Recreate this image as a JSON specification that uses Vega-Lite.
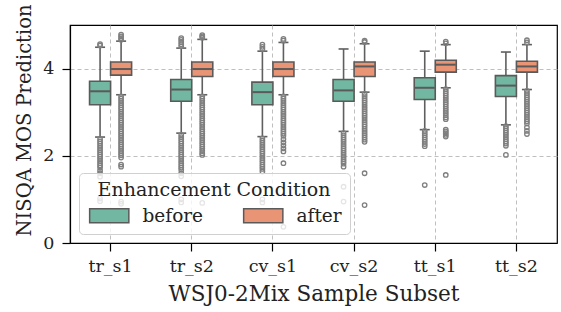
{
 "$schema": "https://vega.github.io/schema/vega-lite/v6.json",
 "width": 487, "height": 218,
 "autosize": {"type": "none"},
 "padding": {"left": 70, "top": 25, "right": 4, "bottom": 69},
 "background": "white",
 "config": {
  "font": "DejaVu Serif",
  "view": {"stroke": "black", "strokeWidth": 1.2},
  "axis": {"labelFont": "DejaVu Serif", "titleFont": "DejaVu Serif", "labelFontSize": 17.5, "titleFontSize": 21.5, "labelColor": "#222", "titleColor": "#222", "titleFontWeight": "normal", "domainColor": "black", "domainWidth": 1.2, "tickColor": "black", "tickWidth": 1.2, "tickSize": 8, "gridColor": "#b8b8b8", "gridDash": [4, 3], "gridWidth": 0.9},
  "legend": {"orient": "bottom-left", "offset": 9, "direction": "horizontal", "columns": 2, "titleFontSize": 19, "labelFontSize": 18.5, "titleFont": "DejaVu Serif", "labelFont": "DejaVu Serif", "titleFontWeight": "normal", "titleColor": "#222", "labelColor": "#222", "titleLimit": 400, "fillColor": "rgba(255,255,255,0.8)", "strokeColor": "#d0d0d0", "cornerRadius": 4, "padding": 8, "symbolType": "M-2.8,-1L2.8,-1L2.8,1L-2.8,1Z", "symbolSize": 196, "symbolOffset": 13, "symbolStrokeColor": "#5a5a5a", "symbolStrokeWidth": 1.5, "symbolOpacity": 1, "labelOffset": 24, "columnPadding": 36, "titleAnchor": "middle", "titlePadding": 6}
 },
 "datasets": {
  "stats": [
   {"s": "tr_s1", "c": "before", "lo": 2.43, "q1": 3.17, "med": 3.48, "q3": 3.71, "hi": 4.49},
   {"s": "tr_s1", "c": "after", "lo": 3.40, "q1": 3.85, "med": 3.99, "q3": 4.15, "hi": 4.63},
   {"s": "tr_s2", "c": "before", "lo": 2.52, "q1": 3.25, "med": 3.52, "q3": 3.75, "hi": 4.47},
   {"s": "tr_s2", "c": "after", "lo": 3.40, "q1": 3.82, "med": 3.99, "q3": 4.15, "hi": 4.67},
   {"s": "cv_s1", "c": "before", "lo": 2.44, "q1": 3.17, "med": 3.46, "q3": 3.69, "hi": 4.40},
   {"s": "cv_s1", "c": "after", "lo": 3.40, "q1": 3.82, "med": 3.99, "q3": 4.15, "hi": 4.60},
   {"s": "cv_s2", "c": "before", "lo": 2.56, "q1": 3.25, "med": 3.50, "q3": 3.75, "hi": 4.45},
   {"s": "cv_s2", "c": "after", "lo": 3.46, "q1": 3.82, "med": 4.05, "q3": 4.15, "hi": 4.57},
   {"s": "tt_s1", "c": "before", "lo": 2.60, "q1": 3.29, "med": 3.56, "q3": 3.79, "hi": 4.40},
   {"s": "tt_s1", "c": "after", "lo": 3.56, "q1": 3.92, "med": 4.09, "q3": 4.19, "hi": 4.55},
   {"s": "tt_s2", "c": "before", "lo": 2.71, "q1": 3.36, "med": 3.61, "q3": 3.84, "hi": 4.38},
   {"s": "tt_s2", "c": "after", "lo": 3.52, "q1": 3.92, "med": 4.05, "q3": 4.17, "hi": 4.55}
  ],
  "out": [
   {"s":"tr_s1","c":"before","v":4.53},{"s":"tr_s1","c":"before","v":4.56},
   {"s":"tr_s1","c":"before","v":2.38},{"s":"tr_s1","c":"before","v":2.33},{"s":"tr_s1","c":"before","v":2.28},{"s":"tr_s1","c":"before","v":2.23},{"s":"tr_s1","c":"before","v":2.18},{"s":"tr_s1","c":"before","v":2.13},{"s":"tr_s1","c":"before","v":2.08},{"s":"tr_s1","c":"before","v":2.03},{"s":"tr_s1","c":"before","v":1.98},{"s":"tr_s1","c":"before","v":1.93},{"s":"tr_s1","c":"before","v":1.88},{"s":"tr_s1","c":"before","v":1.83},{"s":"tr_s1","c":"before","v":1.78},{"s":"tr_s1","c":"before","v":1.73},{"s":"tr_s1","c":"before","v":1.66},{"s":"tr_s1","c":"before","v":1.60},{"s":"tr_s1","c":"before","v":1.52},{"s":"tr_s1","c":"before","v":1.02},{"s":"tr_s1","c":"before","v":0.96},
   {"s":"tr_s1","c":"after","v":4.66},{"s":"tr_s1","c":"after","v":4.70},{"s":"tr_s1","c":"after","v":4.74},{"s":"tr_s1","c":"after","v":4.78},
   {"s":"tr_s1","c":"after","v":3.36},{"s":"tr_s1","c":"after","v":3.31},{"s":"tr_s1","c":"after","v":3.26},{"s":"tr_s1","c":"after","v":3.21},{"s":"tr_s1","c":"after","v":3.16},{"s":"tr_s1","c":"after","v":3.11},{"s":"tr_s1","c":"after","v":3.06},{"s":"tr_s1","c":"after","v":3.01},{"s":"tr_s1","c":"after","v":2.96},{"s":"tr_s1","c":"after","v":2.91},{"s":"tr_s1","c":"after","v":2.86},{"s":"tr_s1","c":"after","v":2.81},{"s":"tr_s1","c":"after","v":2.76},{"s":"tr_s1","c":"after","v":2.71},{"s":"tr_s1","c":"after","v":2.66},{"s":"tr_s1","c":"after","v":2.61},{"s":"tr_s1","c":"after","v":2.56},{"s":"tr_s1","c":"after","v":2.51},{"s":"tr_s1","c":"after","v":2.46},{"s":"tr_s1","c":"after","v":2.41},{"s":"tr_s1","c":"after","v":2.36},{"s":"tr_s1","c":"after","v":2.31},{"s":"tr_s1","c":"after","v":2.26},{"s":"tr_s1","c":"after","v":2.21},{"s":"tr_s1","c":"after","v":2.16},{"s":"tr_s1","c":"after","v":2.11},{"s":"tr_s1","c":"after","v":2.06},{"s":"tr_s1","c":"after","v":2.01},{"s":"tr_s1","c":"after","v":1.96},{"s":"tr_s1","c":"after","v":1.80},{"s":"tr_s1","c":"after","v":1.75},{"s":"tr_s1","c":"after","v":0.95},{"s":"tr_s1","c":"after","v":0.90},
   {"s":"tr_s2","c":"before","v":4.51},{"s":"tr_s2","c":"before","v":4.56},{"s":"tr_s2","c":"before","v":4.61},{"s":"tr_s2","c":"before","v":4.66},{"s":"tr_s2","c":"before","v":4.70},
   {"s":"tr_s2","c":"before","v":2.48},{"s":"tr_s2","c":"before","v":2.43},{"s":"tr_s2","c":"before","v":2.38},{"s":"tr_s2","c":"before","v":2.33},{"s":"tr_s2","c":"before","v":2.28},{"s":"tr_s2","c":"before","v":2.23},{"s":"tr_s2","c":"before","v":2.18},{"s":"tr_s2","c":"before","v":2.13},{"s":"tr_s2","c":"before","v":2.08},{"s":"tr_s2","c":"before","v":2.03},{"s":"tr_s2","c":"before","v":1.98},{"s":"tr_s2","c":"before","v":1.93},{"s":"tr_s2","c":"before","v":1.88},{"s":"tr_s2","c":"before","v":1.83},{"s":"tr_s2","c":"before","v":1.78},{"s":"tr_s2","c":"before","v":1.73},{"s":"tr_s2","c":"before","v":1.68},{"s":"tr_s2","c":"before","v":1.60},{"s":"tr_s2","c":"before","v":1.53},{"s":"tr_s2","c":"before","v":1.00},{"s":"tr_s2","c":"before","v":0.93},
   {"s":"tr_s2","c":"after","v":4.71},{"s":"tr_s2","c":"after","v":4.74},{"s":"tr_s2","c":"after","v":4.77},
   {"s":"tr_s2","c":"after","v":3.36},{"s":"tr_s2","c":"after","v":3.31},{"s":"tr_s2","c":"after","v":3.26},{"s":"tr_s2","c":"after","v":3.21},{"s":"tr_s2","c":"after","v":3.16},{"s":"tr_s2","c":"after","v":3.11},{"s":"tr_s2","c":"after","v":3.06},{"s":"tr_s2","c":"after","v":3.01},{"s":"tr_s2","c":"after","v":2.96},{"s":"tr_s2","c":"after","v":2.91},{"s":"tr_s2","c":"after","v":2.86},{"s":"tr_s2","c":"after","v":2.81},{"s":"tr_s2","c":"after","v":2.76},{"s":"tr_s2","c":"after","v":2.71},{"s":"tr_s2","c":"after","v":2.66},{"s":"tr_s2","c":"after","v":2.61},{"s":"tr_s2","c":"after","v":2.56},{"s":"tr_s2","c":"after","v":2.51},{"s":"tr_s2","c":"after","v":2.46},{"s":"tr_s2","c":"after","v":2.41},{"s":"tr_s2","c":"after","v":2.36},{"s":"tr_s2","c":"after","v":2.31},{"s":"tr_s2","c":"after","v":2.26},{"s":"tr_s2","c":"after","v":2.21},{"s":"tr_s2","c":"after","v":2.16},{"s":"tr_s2","c":"after","v":2.11},{"s":"tr_s2","c":"after","v":2.06},{"s":"tr_s2","c":"after","v":2.02},{"s":"tr_s2","c":"after","v":0.92},
   {"s":"cv_s1","c":"before","v":4.45},{"s":"cv_s1","c":"before","v":4.50},{"s":"cv_s1","c":"before","v":4.55},
   {"s":"cv_s1","c":"before","v":2.40},{"s":"cv_s1","c":"before","v":2.35},{"s":"cv_s1","c":"before","v":2.30},{"s":"cv_s1","c":"before","v":2.25},{"s":"cv_s1","c":"before","v":2.20},{"s":"cv_s1","c":"before","v":2.15},{"s":"cv_s1","c":"before","v":2.10},{"s":"cv_s1","c":"before","v":2.05},{"s":"cv_s1","c":"before","v":2.00},{"s":"cv_s1","c":"before","v":1.95},{"s":"cv_s1","c":"before","v":1.90},{"s":"cv_s1","c":"before","v":1.85},{"s":"cv_s1","c":"before","v":1.80},{"s":"cv_s1","c":"before","v":1.75},{"s":"cv_s1","c":"before","v":1.70},{"s":"cv_s1","c":"before","v":1.64},{"s":"cv_s1","c":"before","v":1.00},{"s":"cv_s1","c":"before","v":0.93},
   {"s":"cv_s1","c":"after","v":4.64},{"s":"cv_s1","c":"after","v":4.68},
   {"s":"cv_s1","c":"after","v":3.36},{"s":"cv_s1","c":"after","v":3.31},{"s":"cv_s1","c":"after","v":3.26},{"s":"cv_s1","c":"after","v":3.21},{"s":"cv_s1","c":"after","v":3.16},{"s":"cv_s1","c":"after","v":3.11},{"s":"cv_s1","c":"after","v":3.06},{"s":"cv_s1","c":"after","v":3.01},{"s":"cv_s1","c":"after","v":2.96},{"s":"cv_s1","c":"after","v":2.91},{"s":"cv_s1","c":"after","v":2.86},{"s":"cv_s1","c":"after","v":2.81},{"s":"cv_s1","c":"after","v":2.76},{"s":"cv_s1","c":"after","v":2.71},{"s":"cv_s1","c":"after","v":2.66},{"s":"cv_s1","c":"after","v":2.61},{"s":"cv_s1","c":"after","v":2.56},{"s":"cv_s1","c":"after","v":2.51},{"s":"cv_s1","c":"after","v":2.46},{"s":"cv_s1","c":"after","v":2.38},{"s":"cv_s1","c":"after","v":2.31},{"s":"cv_s1","c":"after","v":2.24},{"s":"cv_s1","c":"after","v":2.17},{"s":"cv_s1","c":"after","v":2.10},{"s":"cv_s1","c":"after","v":1.83},{"s":"cv_s1","c":"after","v":0.37},
   {"s":"cv_s2","c":"before","v":2.52},{"s":"cv_s2","c":"before","v":2.47},{"s":"cv_s2","c":"before","v":2.42},{"s":"cv_s2","c":"before","v":2.37},{"s":"cv_s2","c":"before","v":2.32},{"s":"cv_s2","c":"before","v":2.27},{"s":"cv_s2","c":"before","v":2.22},{"s":"cv_s2","c":"before","v":2.17},{"s":"cv_s2","c":"before","v":2.12},{"s":"cv_s2","c":"before","v":2.07},{"s":"cv_s2","c":"before","v":2.02},{"s":"cv_s2","c":"before","v":1.97},{"s":"cv_s2","c":"before","v":1.92},{"s":"cv_s2","c":"before","v":1.87},{"s":"cv_s2","c":"before","v":1.82},{"s":"cv_s2","c":"before","v":1.75},{"s":"cv_s2","c":"before","v":1.29},{"s":"cv_s2","c":"before","v":0.95},
   {"s":"cv_s2","c":"after","v":4.61},{"s":"cv_s2","c":"after","v":4.64},
   {"s":"cv_s2","c":"after","v":3.42},{"s":"cv_s2","c":"after","v":3.37},{"s":"cv_s2","c":"after","v":3.32},{"s":"cv_s2","c":"after","v":3.27},{"s":"cv_s2","c":"after","v":3.22},{"s":"cv_s2","c":"after","v":3.17},{"s":"cv_s2","c":"after","v":3.12},{"s":"cv_s2","c":"after","v":3.07},{"s":"cv_s2","c":"after","v":3.02},{"s":"cv_s2","c":"after","v":2.97},{"s":"cv_s2","c":"after","v":2.92},{"s":"cv_s2","c":"after","v":2.87},{"s":"cv_s2","c":"after","v":2.82},{"s":"cv_s2","c":"after","v":2.77},{"s":"cv_s2","c":"after","v":2.72},{"s":"cv_s2","c":"after","v":2.67},{"s":"cv_s2","c":"after","v":2.62},{"s":"cv_s2","c":"after","v":2.57},{"s":"cv_s2","c":"after","v":2.52},{"s":"cv_s2","c":"after","v":2.47},{"s":"cv_s2","c":"after","v":2.42},{"s":"cv_s2","c":"after","v":2.37},{"s":"cv_s2","c":"after","v":2.32},{"s":"cv_s2","c":"after","v":1.60},{"s":"cv_s2","c":"after","v":0.87},
   {"s":"tt_s1","c":"before","v":2.57},{"s":"tt_s1","c":"before","v":2.52},{"s":"tt_s1","c":"before","v":2.47},{"s":"tt_s1","c":"before","v":2.42},{"s":"tt_s1","c":"before","v":2.37},{"s":"tt_s1","c":"before","v":2.32},{"s":"tt_s1","c":"before","v":2.27},{"s":"tt_s1","c":"before","v":2.22},{"s":"tt_s1","c":"before","v":1.33},
   {"s":"tt_s1","c":"after","v":4.58},{"s":"tt_s1","c":"after","v":4.62},
   {"s":"tt_s1","c":"after","v":3.53},{"s":"tt_s1","c":"after","v":3.48},{"s":"tt_s1","c":"after","v":3.43},{"s":"tt_s1","c":"after","v":3.38},{"s":"tt_s1","c":"after","v":3.33},{"s":"tt_s1","c":"after","v":3.28},{"s":"tt_s1","c":"after","v":3.23},{"s":"tt_s1","c":"after","v":3.18},{"s":"tt_s1","c":"after","v":3.13},{"s":"tt_s1","c":"after","v":3.08},{"s":"tt_s1","c":"after","v":3.03},{"s":"tt_s1","c":"after","v":2.98},{"s":"tt_s1","c":"after","v":2.93},{"s":"tt_s1","c":"after","v":2.88},{"s":"tt_s1","c":"after","v":2.84},{"s":"tt_s1","c":"after","v":2.60},{"s":"tt_s1","c":"after","v":2.56},{"s":"tt_s1","c":"after","v":2.52},{"s":"tt_s1","c":"after","v":2.48},{"s":"tt_s1","c":"after","v":2.44},{"s":"tt_s1","c":"after","v":1.56},
   {"s":"tt_s2","c":"before","v":2.68},{"s":"tt_s2","c":"before","v":2.63},{"s":"tt_s2","c":"before","v":2.58},{"s":"tt_s2","c":"before","v":2.53},{"s":"tt_s2","c":"before","v":2.48},{"s":"tt_s2","c":"before","v":2.43},{"s":"tt_s2","c":"before","v":2.38},{"s":"tt_s2","c":"before","v":2.33},{"s":"tt_s2","c":"before","v":2.28},{"s":"tt_s2","c":"before","v":2.23},{"s":"tt_s2","c":"before","v":2.02},
   {"s":"tt_s2","c":"after","v":4.60},{"s":"tt_s2","c":"after","v":4.65},
   {"s":"tt_s2","c":"after","v":3.49},{"s":"tt_s2","c":"after","v":3.44},{"s":"tt_s2","c":"after","v":3.39},{"s":"tt_s2","c":"after","v":3.34},{"s":"tt_s2","c":"after","v":3.29},{"s":"tt_s2","c":"after","v":3.24},{"s":"tt_s2","c":"after","v":3.19},{"s":"tt_s2","c":"after","v":3.14},{"s":"tt_s2","c":"after","v":3.09},{"s":"tt_s2","c":"after","v":3.04},{"s":"tt_s2","c":"after","v":2.99},{"s":"tt_s2","c":"after","v":2.94},{"s":"tt_s2","c":"after","v":2.89},{"s":"tt_s2","c":"after","v":2.84},{"s":"tt_s2","c":"after","v":2.79},{"s":"tt_s2","c":"after","v":2.74},{"s":"tt_s2","c":"after","v":2.65},{"s":"tt_s2","c":"after","v":2.57},{"s":"tt_s2","c":"after","v":2.50}
  ]
 },
 "encoding": {
  "x": {"field": "s", "type": "nominal", "sort": ["tr_s1", "tr_s2", "cv_s1", "cv_s2", "tt_s1", "tt_s2"], "scale": {"paddingInner": 0, "paddingOuter": 0}, "axis": {"title": "WSJ0-2Mix Sample Subset", "labelAngle": 0, "bandPosition": 0.5, "grid": true, "labelPadding": 6, "titlePadding": 9}},
  "xOffset": {"field": "c", "type": "nominal", "sort": ["before", "after"], "scale": {"paddingInner": 0, "paddingOuter": 0.93}}
 },
 "layer": [
  {"data": {"name": "stats"}, "mark": {"type": "rule", "color": "#5f5f5f", "strokeWidth": 1.6},
   "encoding": {"y": {"field": "lo", "type": "quantitative", "scale": {"domain": [0, 5], "nice": false}, "axis": {"title": "NISQA MOS Prediction", "titleFontSize": 19.5, "values": [0, 2, 4], "grid": true, "titlePadding": 8, "labelPadding": 8, "titleY": 95}}, "y2": {"field": "q1"}}},
  {"data": {"name": "stats"}, "mark": {"type": "rule", "color": "#5f5f5f", "strokeWidth": 1.6},
   "encoding": {"y": {"field": "q3", "type": "quantitative"}, "y2": {"field": "hi"}}},
  {"data": {"name": "stats"}, "mark": {"type": "tick", "color": "#5f5f5f", "size": 10, "thickness": 1.6, "opacity": 1},
   "encoding": {"y": {"field": "lo", "type": "quantitative"}}},
  {"data": {"name": "stats"}, "mark": {"type": "tick", "color": "#5f5f5f", "size": 10, "thickness": 1.6, "opacity": 1},
   "encoding": {"y": {"field": "hi", "type": "quantitative"}}},
  {"data": {"name": "out"}, "mark": {"type": "point", "shape": "circle", "filled": false, "color": "#7f7f7f", "size": 20, "strokeWidth": 1.3, "opacity": 1},
   "encoding": {"y": {"field": "v", "type": "quantitative"}}},
  {"data": {"name": "stats"}, "mark": {"type": "bar", "stroke": "#5a5a5a", "strokeWidth": 1.6, "opacity": 1},
   "encoding": {"y": {"field": "q1", "type": "quantitative"}, "y2": {"field": "q3"},
    "color": {"field": "c", "type": "nominal", "sort": ["before", "after"], "scale": {"domain": ["before", "after"], "range": ["#71b7a1", "#e99575"]}, "legend": {"title": "Enhancement Condition"}}}},
  {"data": {"name": "stats"}, "mark": {"type": "tick", "color": "#5a5a5a", "size": 20, "thickness": 2, "opacity": 1},
   "encoding": {"y": {"field": "med", "type": "quantitative"}}}
 ]
}
